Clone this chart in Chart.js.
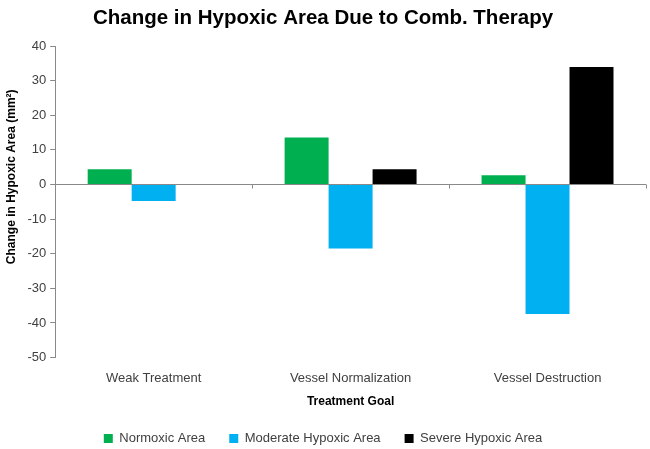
<!DOCTYPE html>
<html><head><meta charset="utf-8">
<script src="https://cdn.jsdelivr.net/npm/chart.js@4"></script>
<style>html,body{margin:0;padding:0;background:#fff}#wrap{width:650px;height:449px}</style>
</head><body><div id="wrap"><canvas id="c" width="650" height="449"></canvas></div>
<script>
const categories = ["Weak Treatment", "Vessel Normalization", "Vessel Destruction"];
const normoxic = [4.4, 13.6, 2.7];
const moderate = [-4.8, -18.5, -37.4];
const severe = [0, 4.4, 33.9];
const seriesNames = ["Normoxic Area", "Moderate Hypoxic Area", "Severe Hypoxic Area"];
const yTicks = [-50, -40, -30, -20, -10, 0, 10, 20, 30, 40];

const FONT = "'Liberation Sans', Arial, sans-serif";

const catTicks = {
  id: 'catTicks',
  afterDatasetsDraw(chart) {
    const ctx = chart.ctx, x = chart.scales.x, y = chart.scales.y;
    const y0 = y.getPixelForValue(0);
    ctx.save();
    ctx.strokeStyle = '#898989'; ctx.lineWidth = 1;
    for (let i = 0; i <= categories.length; i++) {
      const px = Math.round(x.getPixelForValue(i - 0.5)) + 0.5;
      ctx.beginPath(); ctx.moveTo(px, y0); ctx.lineTo(px, y0 + 4); ctx.stroke();
    }
    ctx.beginPath(); ctx.moveTo(x.left, Math.round(y0) + 0.5); ctx.lineTo(x.right, Math.round(y0) + 0.5); ctx.stroke();
    ctx.restore();
  }
};

new Chart(document.getElementById('c'), {
  type: 'bar',
  data: {
    labels: categories,
    datasets: [
      {label: seriesNames[0], data: normoxic, backgroundColor: '#00B050'},
      {label: seriesNames[1], data: moderate, backgroundColor: '#00B0F0'},
      {label: seriesNames[2], data: severe, backgroundColor: '#000000'}
    ]
  },
  options: {
    responsive: false,
    animation: false,
    layout: {padding: {left: 0, right: 4, top: 0, bottom: -6}},
    datasets: {bar: {categoryPercentage: 0.67, barPercentage: 1.0, borderWidth: 0}},
    plugins: {
      title: {display: true, text: 'Change in Hypoxic Area Due to Comb. Therapy', color: '#000',
        font: {family: FONT, size: 20.5, weight: 'bold'}, padding: {top: 6, bottom: 15.4}},
      legend: {position: 'bottom',
        labels: {usePointStyle: true, pointStyle: 'rect', boxWidth: 9, boxHeight: 9, padding: 24, color: '#404040',
          font: {family: FONT, size: 13}}},
      tooltip: {enabled: false}
    },
    scales: {
      x: {
        grid: {display: false, drawTicks: false},
        border: {display: false},
        ticks: {color: '#404040', font: {family: FONT, size: 13}, padding: 13.2},
        title: {display: true, text: 'Treatment Goal', color: '#000', font: {family: FONT, size: 12, weight: 'bold'}, padding: {top: -5, bottom: -1}}
      },
      y: {
        min: -50, max: 40,
        afterBuildTicks: (s) => { s.ticks = yTicks.map(v => ({value: v})); },
        grid: {drawOnChartArea: false, color: '#898989', tickLength: 5},
        border: {display: true, color: '#898989'},
        ticks: {color: '#404040', font: {family: FONT, size: 13}, padding: 4},
        title: {display: true, text: '               Change in Hypoxic Area (mm²)', color: '#000', font: {family: FONT, size: 12, weight: 'bold'}, padding: {top: 4, bottom: 5}}
      }
    }
  },
  plugins: [catTicks]
});
</script></body></html>
